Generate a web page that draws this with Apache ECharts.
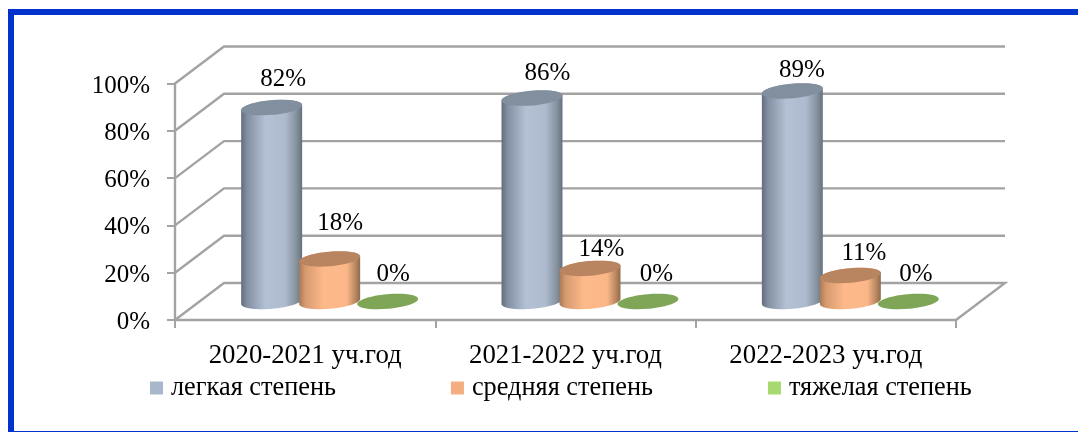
<!DOCTYPE html>
<html><head><meta charset="utf-8">
<style>html,body{margin:0;padding:0;background:#fff}#c{width:1078px;height:432px}</style>
<script src="https://cdn.jsdelivr.net/npm/echarts@6/dist/echarts.min.js"></script>
</head><body><div id="c"></div>
<script>
const categories = ['2020-2021 уч.год','2021-2022 уч.год','2022-2023 уч.год'];
const seriesNames = ['легкая степень','средняя степень','тяжелая степень'];
const mild = [82,86,89];
const moderate = [18,14,11];
const severe = [0,0,0];
const yTicks = [0,20,40,60,80,100];
const legendColors = ['#a9b7cd','#f4ae80','#a6d96f'];
const topColors = ['#828f9f','#b98560','#7ea656'];
const bodyStops = [
  [[0,'#626d7d'],[0.1,'#8390a2'],[0.4,'#b4c1d5'],[0.72,'#aebbcf'],[0.9,'#87939f'],[1,'#667180']],
  [[0,'#a87a58'],[0.1,'#d69a6f'],[0.4,'#fdb98a'],[0.78,'#fcb788'],[0.93,'#b5855f'],[1,'#8f6a4c']]
];
// label shifts relative to each cylinder's top centre, per series then category
const labelShiftX = [[11.5,15.5,9.5],[10.5,11.5,13.5],[5.5,8.5,7.5]];
const labelShiftY = [[-28.5,-25,-21],[-35,-18.5,-22.5],[-27.5,-27.5,-27.5]];

const SERIF = '"Liberation Serif","Times New Roman",serif';
const DEPTH_X = 49, DEPTH_Y = -37, GAP = 58, A = 30.6, B = 7.3, TILT = 5*Math.PI/180;
const LINE = '#a3a3a3';

function ellPoint(cx, cy, t){
  const x = A*Math.cos(t), y = B*Math.sin(t);
  return [cx + x*Math.cos(TILT) + y*Math.sin(TILT), cy - x*Math.sin(TILT) + y*Math.cos(TILT)];
}
function cylinder(si){
  return function(params, api){
    const cat = api.value(0), val = api.value(1);
    const top = api.coord([cat, val]), base = api.coord([cat, 0]);
    const off = (si-1)*GAP + DEPTH_X/2, lift = DEPTH_Y/2;
    const cx = top[0]+off, ty = top[1]+lift, by = base[1]+lift;
    const children = [];
    if (val > 0) {
      const pts = [];
      for (let i=0;i<=40;i++) pts.push(ellPoint(cx, by, Math.PI*i/40));
      for (let i=0;i<=40;i++) pts.push(ellPoint(cx, ty, Math.PI + Math.PI*i/40));
      children.push({type:'polygon', shape:{points:pts}, style:{
        fill:new echarts.graphic.LinearGradient(0,0,1,0,bodyStops[si].map(s=>({offset:s[0],color:s[1]})))
      }});
    }
    children.push({type:'ellipse', shape:{cx:0,cy:0,rx:A,ry:B}, x:cx, y:ty, rotation:TILT,
      style:{fill:topColors[si]}});
    children.push({type:'text', x:cx+labelShiftX[si][cat], y:ty+labelShiftY[si][cat],
      style:{text:val+'%', font:'25px '+SERIF, fill:'#000', textAlign:'center', textVerticalAlign:'middle'}});
    return {type:'group', children};
  };
}
function wall(params, api){
  const v = api.value(0);
  const a = api.coord([0, v]);
  const left = a[0] - (api.size([1,0])[0])/2;
  const right = left + api.size([1,0])[0]*categories.length;
  const y = a[1];
  const pts = [[left,y],[left+DEPTH_X,y+DEPTH_Y],[right+DEPTH_X,y+DEPTH_Y]];
  if (v===0) pts.push([right,y]);
  return {type:'polyline', shape:{points:pts}, style:{stroke:LINE, lineWidth:2.4, fill:null}};
}
const values = [mild, moderate, severe];
const chart = echarts.init(document.getElementById('c'));
chart.setOption({
  animation:false,
  backgroundColor:'#fff',
  grid:{left:175,right:122,top:83.5,bottom:112,containLabel:false},
  legend:{data:seriesNames,left:145,top:370,icon:'rect',itemWidth:13,itemHeight:13,itemGap:115,
    selectedMode:false,textStyle:{fontFamily:SERIF,fontSize:26.3,color:'#000',padding:[0,0,0,3]}},
  xAxis:{type:'category',data:categories,
    axisLine:{show:true,lineStyle:{color:LINE,width:2.4}},
    axisTick:{show:true,length:8,lineStyle:{color:LINE,width:2}},
    axisLabel:{fontFamily:SERIF,fontSize:26.8,color:'#000',margin:22},splitLine:{show:false}},
  yAxis:{type:'value',min:0,max:100,interval:20,
    axisLine:{show:true,lineStyle:{color:LINE,width:2.4}},
    axisTick:{show:true,length:8,lineStyle:{color:LINE,width:2}},
    axisLabel:{fontFamily:SERIF,fontSize:25,color:'#000',margin:25,verticalAlign:'top',lineHeight:5,formatter:'{value}%'},
    splitLine:{show:false}},
  graphic:[
    {type:'rect',shape:{x:8,y:9,width:1070,height:6},style:{fill:'#0033cc'},silent:true},
    {type:'rect',shape:{x:8,y:9,width:6,height:423},style:{fill:'#0033cc'},silent:true},
    {type:'rect',shape:{x:8,y:431,width:1070,height:1},style:{fill:'#0033cc'},silent:true}
  ],
  series:[
    {type:'custom',name:'walls',data:yTicks.map(v=>[v]),renderItem:wall,coordinateSystem:'cartesian2d',
      encode:{y:0},clip:false,silent:true,z:1,tooltip:{show:false}},
    ...seriesNames.map((name,si)=>({
      type:'custom',name,coordinateSystem:'cartesian2d',
      data:values[si].map((v,i)=>[i,v]),encode:{x:0,y:1},
      renderItem:cylinder(si),clip:false,z:3+si,itemStyle:{color:legendColors[si]}
    }))
  ]
});
</script></body></html>
